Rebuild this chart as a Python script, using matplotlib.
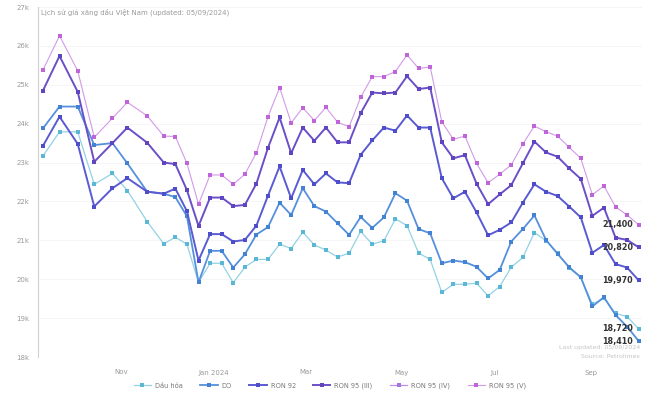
import matplotlib
matplotlib.use("Agg")
import matplotlib.pyplot as plt
import numpy as np
import pandas as pd

# ngày điều chỉnh giá
dates = pd.to_datetime([
    "2023-09-11", "2023-09-21", "2023-10-02", "2023-10-12", "2023-10-23", "2023-11-01",
    "2023-11-13", "2023-11-23", "2023-11-30", "2023-12-07", "2023-12-14", "2023-12-21",
    "2023-12-28", "2024-01-04", "2024-01-11", "2024-01-18", "2024-01-25", "2024-02-01",
    "2024-02-08", "2024-02-15", "2024-02-22", "2024-02-29", "2024-03-07", "2024-03-14",
    "2024-03-21", "2024-03-28", "2024-04-04", "2024-04-11", "2024-04-18", "2024-04-25",
    "2024-05-02", "2024-05-09", "2024-05-16", "2024-05-23", "2024-05-30", "2024-06-06",
    "2024-06-13", "2024-06-20", "2024-06-27", "2024-07-04", "2024-07-11", "2024-07-18",
    "2024-07-25", "2024-08-01", "2024-08-08", "2024-08-15", "2024-08-22", "2024-08-29",
    "2024-09-05",
])

dau_hoa = [23170, 23790, 23790, 22440, 22720, 22280, 21480, 20910, 21080, 20900,
           19920, 20410, 20410, 19910, 20310, 20510, 20510, 20900, 20790, 21210,
           20880, 20750, 20570, 20670, 21230, 20900, 20990, 21550, 21380, 20670,
           20510, 19660, 19870, 19870, 19900, 19570, 19810, 20310, 20560, 21200,
           20990, 20680, 20280, 20050, 19360, 19510, 19120, 19040, 18720]
do = [23880, 24440, 24440, 23450, 23500, 22980, 22250, 22200, 22110, 21620,
      19920, 20730, 20730, 20300, 20640, 21150, 21340, 21970, 21650, 22340,
      21880, 21740, 21440, 21140, 21600, 21320, 21590, 22210, 22020, 21290,
      21180, 20410, 20480, 20440, 20320, 20020, 20240, 20970, 21290, 21640,
      21010, 20650, 20310, 20050, 19300, 19540, 19080, 18780, 18410]
ron92 = [23430, 24180, 23480, 21870, 22340, 22600, 22250, 22200, 22330, 21750,
         20480, 21160, 21160, 20970, 21010, 21380, 22150, 22900, 22080, 22810,
         22440, 22720, 22490, 22470, 23200, 23570, 23900, 23820, 24210, 23900,
         23900, 22600, 22080, 22250, 21720, 21130, 21270, 21460, 21970, 22440,
         22250, 22140, 21870, 21590, 20680, 20880, 20390, 20300, 19970]
ron95_3 = [24850, 25740, 24820, 23020, 23500, 23900, 23510, 23000, 22960, 22290,
           21370, 22100, 22100, 21880, 21910, 22460, 23380, 24160, 23240, 23900,
           23560, 23900, 23520, 23520, 24270, 24800, 24780, 24800, 25220, 24890,
           24930, 23520, 23110, 23190, 22460, 21930, 22180, 22420, 22980, 23540,
           23260, 23150, 22850, 22580, 21630, 21840, 21070, 21010, 20820]
ron95_4 = [np.nan] * len(dates)
ron95_5 = [25380, 26260, 25360, 23650, 24140, 24550, 24200, 23680, 23670, 22980,
           21930, 22680, 22680, 22440, 22700, 23250, 24180, 24930, 24020, 24410,
           24080, 24420, 24040, 23920, 24680, 25210, 25210, 25340, 25770, 25420,
           25460, 24050, 23600, 23680, 22980, 22480, 22700, 22940, 23480, 23940,
           23790, 23680, 23390, 23110, 22170, 22400, 21860, 21650, 21400]

names = ["Dầu hỏa", "DO", "RON 92", "RON 95 (III)", "RON 95 (IV)", "RON 95 (V)"]
series = [dau_hoa, do, ron92, ron95_3, ron95_4, ron95_5]
line_colors = ["#92d2e4", "#5590dc", "#5a5bd3", "#6b4fc8", "#b890e6", "#d29ae8"]
marker_colors = ["#5ab8d6", "#4482d4", "#4e4ecb", "#6144c0", "#a674de", "#c064d9"]
widths = [0.9, 1.3, 1.4, 1.4, 0.9, 0.8]

tick_dates = pd.to_datetime(["2023-10-28", "2023-12-23", "2024-02-17",
                             "2024-04-15", "2024-06-10", "2024-08-07"])
tick_labels = ["Nov", "Jan 2024", "Mar", "May", "Jul", "Sep"]

fig = plt.figure(figsize=(6.6, 4.04), dpi=100)
ax = fig.add_axes([38 / 660, 47 / 404, 604 / 660, 350 / 404])

lines = []
for name, vals, lc, mc, lw in zip(names, series, line_colors, marker_colors, widths):
    ln, = ax.plot(dates, vals, color=lc, lw=lw, marker="s", ms=2.7,
                  mfc=mc, mec=mc, mew=0, label=name)
    lines.append(ln)

ax.set_ylim(18000, 27000)
ax.set_xlim(pd.Timestamp("2023-09-08"), pd.Timestamp("2024-09-07"))
ax.set_yticks(np.arange(18000, 27001, 1000))
ax.set_yticklabels([f"{int(v / 1000)}k" for v in np.arange(18000, 27001, 1000)])
ax.set_xticks(tick_dates)
ax.set_xticklabels(tick_labels)
ax.tick_params(axis="both", length=0, labelsize=5, colors="#9a9a9a")
ax.tick_params(axis="y", pad=6)
ax.tick_params(axis="x", pad=9)
ax.grid(axis="y", color="#f4f4f4", lw=0.6)
ax.set_axisbelow(True)
for s in ["top", "right", "bottom"]:
    ax.spines[s].set_visible(False)
ax.spines["left"].set_color("#cfcfcf")
ax.spines["left"].set_linewidth(0.8)

# nhãn giá cuối cùng
for vals in [ron95_5, ron95_3, ron92, dau_hoa, do]:
    ax.annotate(f"{vals[-1]:,}", (dates[-1], vals[-1]), xytext=(-4, 0),
                textcoords="offset points", ha="right", va="center",
                fontsize=5.8, color="#333333", fontweight="bold")

fig.text(41 / 660, 1 - 12 / 404, "Lịch sử giá xăng dầu Việt Nam (updated: 05/09/2024)",
         fontsize=5, color="#9a9a9a", va="center")
fig.text(640 / 660, 1 - 348 / 404, "Last updated: 05/09/2024", fontsize=4.5,
         color="#c4c4c4", ha="right", va="center")
fig.text(640 / 660, 1 - 356 / 404, "Source: Petrolimex", fontsize=4.5,
         color="#c4c4c4", ha="right", va="center")

fig.legend(handles=lines, loc="center", bbox_to_anchor=(0.5, 1 - 386 / 404),
           ncol=6, frameon=False, fontsize=4.8, labelcolor="#777777",
           handlelength=2.6, columnspacing=2.6, handletextpad=0.6)

fig.savefig("out.png", dpi=100)
